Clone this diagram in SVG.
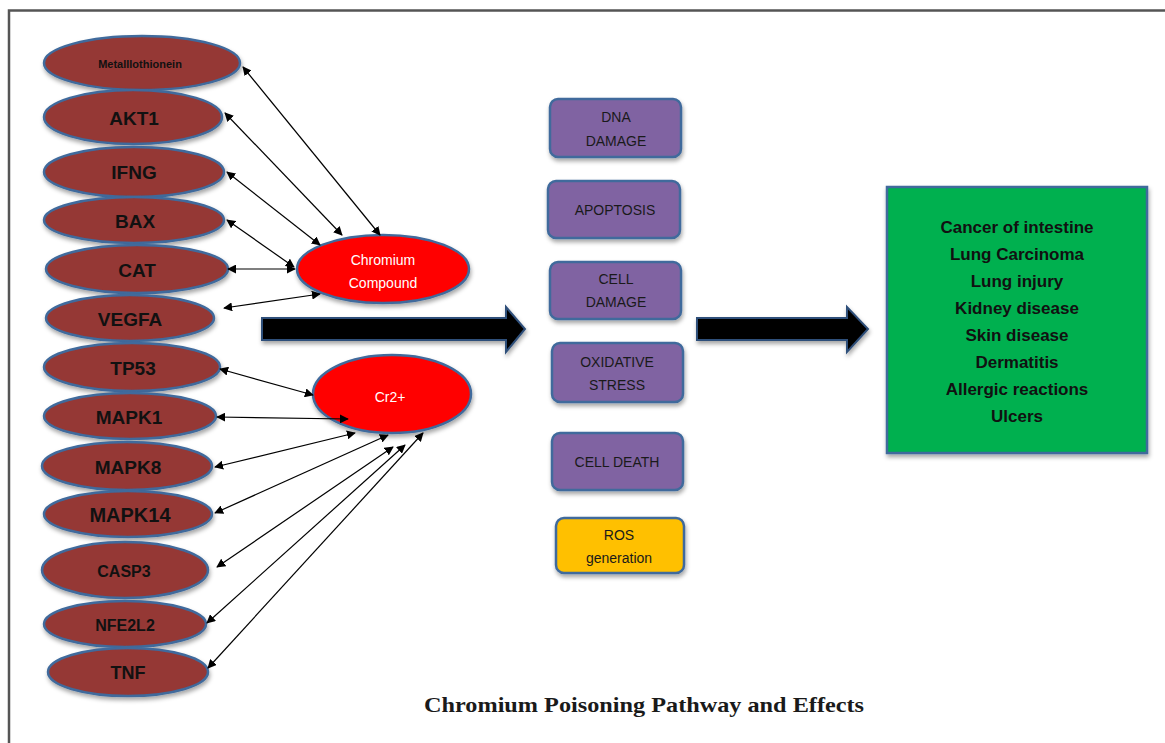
<svg xmlns="http://www.w3.org/2000/svg" width="1165" height="743" viewBox="0 0 1165 743">
<defs>
<marker id="ah" viewBox="0 0 10 10" refX="9" refY="5" markerWidth="9" markerHeight="9" markerUnits="userSpaceOnUse" orient="auto-start-reverse">
<path d="M0,0 L10,5 L0,10 z" fill="#000"/>
</marker>
<filter id="sh" x="-20%" y="-20%" width="140%" height="150%">
<feDropShadow dx="1" dy="3" stdDeviation="2" flood-color="#000" flood-opacity="0.35"/>
</filter>
</defs>
<style>
.gene{fill:#953735;stroke:#3f6a9c;stroke-width:2.5;filter:url(#sh)}
.gl{font-family:"Liberation Sans",Arial,sans-serif;font-weight:bold;fill:#111;text-anchor:middle;dominant-baseline:central}
.cr{fill:#ff0000;stroke:#3f6a9c;stroke-width:2.5;filter:url(#sh)}
.crl{font-family:"Liberation Sans",Arial,sans-serif;fill:#fff;text-anchor:middle;dominant-baseline:central;font-size:14px}
.box{fill:#8064a2;stroke:#3f6a9c;stroke-width:2.5;filter:url(#sh)}
.ros{fill:#ffc000;stroke:#3f6a9c;stroke-width:2.5;filter:url(#sh)}
.bl{font-family:"Liberation Sans",Arial,sans-serif;fill:#1a1a1a;text-anchor:middle;dominant-baseline:central;font-size:14px}
.big{fill:#000;stroke:#2f4f7a;stroke-width:2;filter:url(#sh)}
.eff{font-family:"Liberation Sans",Arial,sans-serif;font-weight:bold;fill:#111;text-anchor:middle;dominant-baseline:central;font-size:17px}
.c{stroke:#000;stroke-width:1.2;fill:none;marker-start:url(#ah);marker-end:url(#ah)}
</style>
<rect width="1165" height="743" fill="#fff"/>
<path d="M9,743 V10.5 H1165" fill="none" stroke="#555" stroke-width="2.5"/>

<g id="metallothionein"><ellipse class="gene" cx="142" cy="63" rx="98" ry="27"/><text class="gl" x="140" y="64" font-size="11">Metalllothionein</text></g>
<g id="akt1"><ellipse class="gene" cx="133" cy="117" rx="89" ry="27"/><text class="gl" x="134" y="118" font-size="19">AKT1</text></g>
<g id="ifng"><ellipse class="gene" cx="134" cy="172" rx="90" ry="25"/><text class="gl" x="134" y="172" font-size="19">IFNG</text></g>
<g id="bax"><ellipse class="gene" cx="134" cy="220" rx="90" ry="23"/><text class="gl" x="135" y="221" font-size="19">BAX</text></g>
<g id="cat"><ellipse class="gene" cx="137" cy="269" rx="91" ry="24"/><text class="gl" x="137" y="270" font-size="19">CAT</text></g>
<g id="vegfa"><ellipse class="gene" cx="130" cy="318" rx="84" ry="23"/><text class="gl" x="130" y="319" font-size="19">VEGFA</text></g>
<g id="tp53"><ellipse class="gene" cx="132" cy="367" rx="88" ry="24"/><text class="gl" x="133" y="368" font-size="19">TP53</text></g>
<g id="mapk1"><ellipse class="gene" cx="130" cy="416" rx="86" ry="23"/><text class="gl" x="129" y="417" font-size="19">MAPK1</text></g>
<g id="mapk8"><ellipse class="gene" cx="127" cy="466" rx="85" ry="24"/><text class="gl" x="128" y="467" font-size="19">MAPK8</text></g>
<g id="mapk14"><ellipse class="gene" cx="128" cy="514" rx="84" ry="23"/><text class="gl" x="130" y="515" font-size="20">MAPK14</text></g>
<g id="casp3"><ellipse class="gene" cx="125" cy="570" rx="83" ry="28"/><text class="gl" x="124" y="571" font-size="16">CASP3</text></g>
<g id="nfe2l2"><ellipse class="gene" cx="125" cy="624" rx="81" ry="23"/><text class="gl" x="125" y="625" font-size="16">NFE2L2</text></g>
<g id="tnf"><ellipse class="gene" cx="128" cy="672" rx="80" ry="24"/><text class="gl" x="128" y="673" font-size="18">TNF</text></g>

<g id="chromium-compound"><ellipse class="cr" cx="383" cy="269" rx="86" ry="34"/><text class="crl" x="383" y="260">Chromium</text><text class="crl" x="383" y="283">Compound</text></g>
<g id="cr2"><ellipse class="cr" cx="392" cy="394" rx="79" ry="39"/><text class="crl" x="390" y="397" font-size="15">Cr2+</text></g>

<g id="connectors">
<line class="c" x1="243" y1="67" x2="380" y2="235"/>
<line class="c" x1="225" y1="113" x2="342" y2="235"/>
<line class="c" x1="227" y1="172" x2="320" y2="245"/>
<line class="c" x1="227" y1="220" x2="294" y2="267"/>
<line class="c" x1="228" y1="269" x2="295" y2="269"/>
<line class="c" x1="224" y1="308" x2="320" y2="294"/>
<line class="c" x1="220" y1="369" x2="313" y2="395"/>
<line class="c" x1="217" y1="417" x2="348" y2="419"/>
<line class="c" x1="215" y1="467" x2="355" y2="433"/>
<line class="c" x1="215" y1="513" x2="388" y2="435"/>
<line class="c" x1="217" y1="567" x2="393" y2="447"/>
<line class="c" x1="207" y1="623" x2="405" y2="445"/>
<line class="c" x1="208" y1="668" x2="423" y2="433"/>
<path id="arrow1" class="big" d="M262,318 H506 V307 L525,329 L506,352 V340 H262 z"/>
<path id="arrow2" class="big" d="M697,318 H847 V307 L868,329 L847,352 V340 H697 z"/>
</g>

<g id="dna-damage"><rect class="box" x="550" y="99" width="131" height="58" rx="8"/><text class="bl" x="616" y="117">DNA</text><text class="bl" x="616" y="141">DAMAGE</text></g>
<g id="apoptosis"><rect class="box" x="548" y="181" width="132" height="57" rx="8"/><text class="bl" x="615" y="210">APOPTOSIS</text></g>
<g id="cell-damage"><rect class="box" x="550" y="262" width="131" height="57" rx="8"/><text class="bl" x="616" y="279">CELL</text><text class="bl" x="616" y="302">DAMAGE</text></g>
<g id="oxidative-stress"><rect class="box" x="552" y="343" width="131" height="59" rx="8"/><text class="bl" x="617" y="362">OXIDATIVE</text><text class="bl" x="617" y="385">STRESS</text></g>
<g id="cell-death"><rect class="box" x="552" y="433" width="131" height="57" rx="8"/><text class="bl" x="617" y="462">CELL DEATH</text></g>
<g id="ros-generation"><rect class="ros" x="556" y="518" width="128" height="55" rx="8"/><text class="bl" x="619" y="535">ROS</text><text class="bl" x="619" y="558">generation</text></g>

<g id="effects"><rect x="887" y="187" width="260" height="266" fill="#00b050" stroke="#3f6a9c" stroke-width="2.5" filter="url(#sh)"/>
<text class="eff" x="1017" y="227">Cancer of intestine</text>
<text class="eff" x="1017" y="254">Lung Carcinoma</text>
<text class="eff" x="1017" y="281">Lung injury</text>
<text class="eff" x="1017" y="308">Kidney disease</text>
<text class="eff" x="1017" y="335">Skin disease</text>
<text class="eff" x="1017" y="362">Dermatitis</text>
<text class="eff" x="1017" y="389">Allergic reactions</text>
<text class="eff" x="1017" y="416">Ulcers</text>
</g>

<text x="644" y="712" font-family="Liberation Serif,'Times New Roman',serif" font-weight="bold" font-size="22" fill="#1a1a1a" text-anchor="middle" textLength="440" lengthAdjust="spacingAndGlyphs">Chromium Poisoning Pathway and Effects</text>
</svg>
